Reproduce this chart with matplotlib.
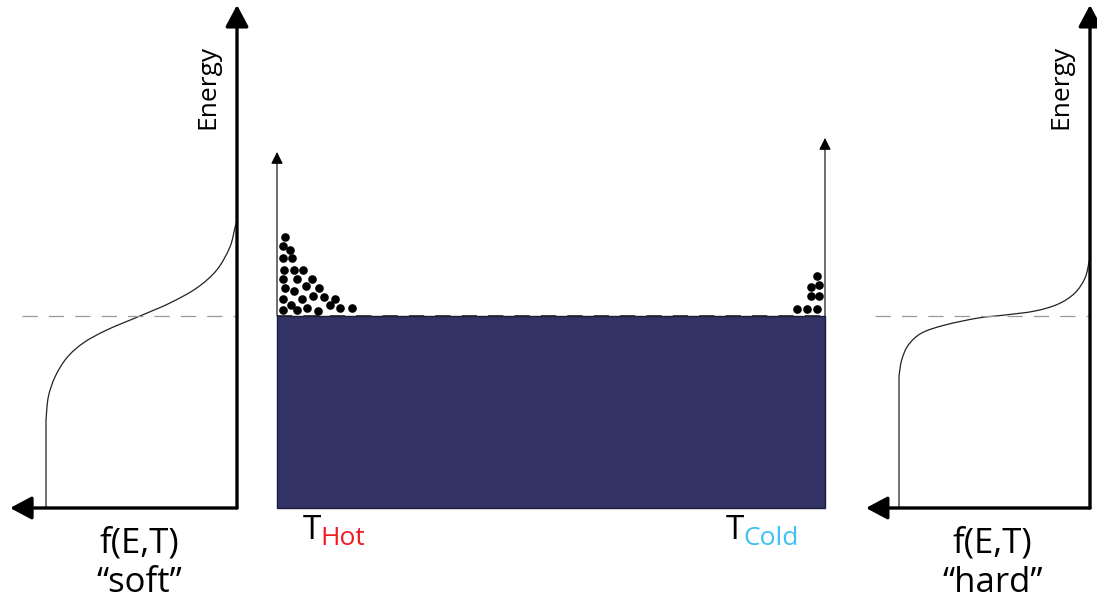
import matplotlib
matplotlib.use("Agg")
import matplotlib.pyplot as plt
from matplotlib.patches import Rectangle, PathPatch
from matplotlib.path import Path
import numpy as np

plt.rcParams['font.family'] = ['Open Sans', 'DejaVu Sans']
plt.rcParams['lines.scale_dashes'] = False

# energy in arbitrary units, Fermi level at 0
E_bottom = -1.92
E_top = 3.11

# occupation f(E,T)
soft_f = [1.0, 1.0, 0.988, 0.953, 0.892, 0.805, 0.682, 0.508, 0.351, 0.211, 0.106, 0.037, 0.010, 0.0]
soft_E = [-1.92, -1.04, -0.81, -0.61, -0.42, -0.27, -0.14, 0.0, 0.13, 0.28, 0.46, 0.69, 0.89, 0.95]
hard_f = [1.0, 1.0, 0.986, 0.951, 0.881, 0.759, 0.585, 0.445, 0.288, 0.166, 0.079, 0.026, 0.005, 0.0]
hard_E = [-1.92, -0.60, -0.44, -0.29, -0.17, -0.09, -0.02, 0.01, 0.05, 0.12, 0.23, 0.38, 0.54, 0.58]

# electrons above the Fermi level in the bar (position, energy)
hot_x = [0.077, 0.057, 0.13, 0.057, 0.147, 0.07, 0.17, 0.263, 0.063, 0.203, 0.347,
         0.08, 0.17, 0.29, 0.423, 0.063, 0.253, 0.357, 0.47, 0.577,
         0.057, 0.137, 0.203, 0.303, 0.413, 0.53, 0.63, 0.747]
hot_E = [0.793, 0.70, 0.66, 0.577, 0.577, 0.46, 0.46, 0.46, 0.367, 0.367, 0.367,
         0.277, 0.25, 0.303, 0.277, 0.17, 0.17, 0.20, 0.187, 0.17,
         0.06, 0.11, 0.06, 0.077, 0.053, 0.11, 0.083, 0.083]
cold_x = [5.403, 5.34, 5.42, 5.34, 5.42, 5.197, 5.297, 5.403]
cold_E = [0.40, 0.293, 0.31, 0.203, 0.203, 0.07, 0.07, 0.07]

bar_length = 5.48

W, H = 1097, 605
fig = plt.figure(figsize=(W / 100, H / 100), dpi=100)
ylim = (-(H - 316) / 100, 316 / 100)


def panel_axes(px0, px1):
    ax = fig.add_axes([px0 / W, 0, (px1 - px0) / W, 1])
    ax.set_ylim(*ylim)
    ax.axis('off')
    return ax


def smooth_curve(ax, xs, ys, **kw):
    # straight first segment, then a catmull-rom style bezier through the rest
    P = np.column_stack([xs, ys])[1:]
    verts = [(xs[0], ys[0]), tuple(P[0])]
    codes = [Path.MOVETO, Path.LINETO]
    n = len(P)
    for i in range(n - 1):
        p0 = P[i - 1] if i > 0 else P[i]
        p1, p2 = P[i], P[i + 1]
        p3 = P[i + 2] if i + 2 < n else P[i + 1]
        verts += [tuple(p1 + (p2 - p0) / 6), tuple(p2 - (p3 - p1) / 6), tuple(p2)]
        codes += [Path.CURVE4] * 3
    ax.add_patch(PathPatch(Path(verts, codes), fill=False, **kw))


def fermi_panel(ax, f, E, tip_f, dash_f, name):
    big = dict(arrowstyle='-|>,head_length=0.6,head_width=0.32', lw=2.4,
               color='black', shrinkA=0, shrinkB=0, mutation_scale=22)
    ax.annotate('', xy=(0, E_top), xytext=(0, E_bottom), arrowprops=big)
    ax.annotate('', xy=(tip_f, E_bottom), xytext=(0, E_bottom), arrowprops=big)
    ax.plot([dash_f, 0], [0, 0], color='#999999', lw=0.9, dashes=(11, 8))
    smooth_curve(ax, f, E, edgecolor='#222222', lw=0.9)
    ax.text(0.152, 2.29, 'Energy', rotation=90, fontsize=19,
            ha='center', va='center')
    ax.text(0.51, -2.28, 'f(E,T)', fontsize=25, ha='center', va='center')
    ax.text(0.51, -2.67, '\u201c' + name + '\u201d', fontsize=25,
            ha='center', va='center')


# left panel: soft
axl = panel_axes(0, 262)
axl.set_xlim((237 - 0) / 191, (237 - 262) / 191)
fermi_panel(axl, soft_f, soft_E, 1.188, 1.126, 'soft')

# right panel: hard
axr = panel_axes(850, 1097)
axr.set_xlim((1090 - 850) / 191, (1090 - 1097) / 191)
fermi_panel(axr, hard_f, hard_E, 1.173, 1.126, 'hard')

# centre bar
axc = panel_axes(262, 850)
axc.set_xlim(-0.15, 5.73)
axc.add_patch(Rectangle((0, E_bottom), bar_length, -E_bottom,
                        facecolor='#333366', edgecolor='#1c1c3a', lw=1))
axc.plot([0, bar_length], [0, 0], color='#222233', lw=1.2, dashes=(11, 8))
thin = dict(arrowstyle='-|>,head_length=0.6,head_width=0.3', lw=0.8,
            color='black', shrinkA=0, shrinkB=0, mutation_scale=12)
axc.annotate('', xy=(0, 1.64), xytext=(0, 0), arrowprops=thin)
axc.annotate('', xy=(bar_length, 1.78), xytext=(bar_length, 0), arrowprops=thin)
axc.plot(hot_x, hot_E, 'o', color='black', ms=6.2, mew=0)
axc.plot(cold_x, cold_E, 'o', color='black', ms=6.2, mew=0)

axc.text(0.26, -2.23, 'T', fontsize=24, ha='left', va='baseline')
axc.text(0.43, -2.29, 'Hot', fontsize=19, color='#ee1c24', ha='left', va='baseline')
axc.text(4.49, -2.23, 'T', fontsize=24, ha='left', va='baseline')
axc.text(4.66, -2.29, 'Cold', fontsize=19, color='#3ec1f3', ha='left', va='baseline')

fig.savefig('out.png', dpi=100, facecolor='white')
